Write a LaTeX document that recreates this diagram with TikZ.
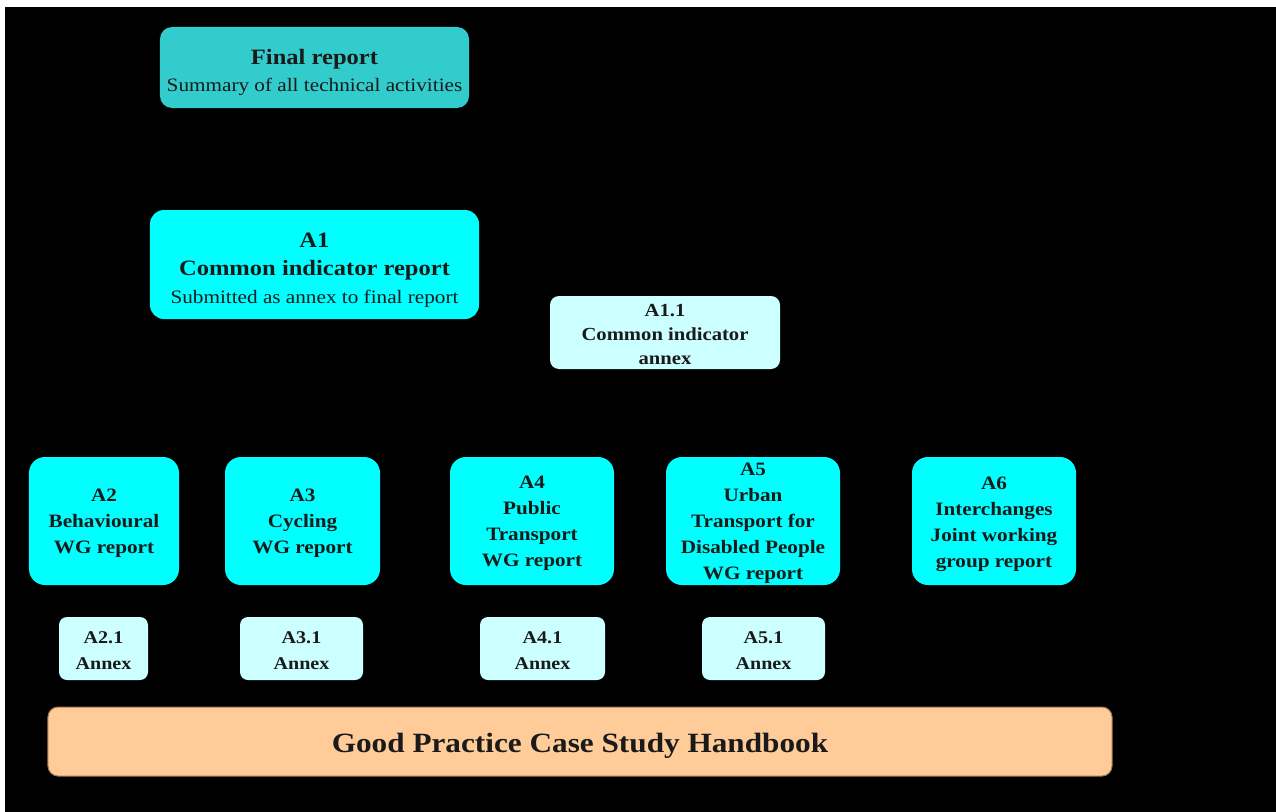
\documentclass[tikz,border=0pt]{standalone}
\usepackage{fontspec}
\setmainfont{Liberation Serif}[FakeStretch=1.12]
\definecolor{teal1}{HTML}{33CCCC}
\definecolor{cyan1}{HTML}{00FFFF}
\definecolor{lcyan}{HTML}{CCFFFF}
\definecolor{peach}{HTML}{FFCC99}
\definecolor{peachedge}{HTML}{A07848}
\definecolor{txt}{HTML}{1A1A1A}
\tikzset{
  basebox/.style={rectangle, inner sep=0pt},
  lbl/.style={inner sep=0pt, align=center, text=txt},
  topbox/.style={basebox, fill=teal1, rounded corners=12bp},
  bigbox/.style={basebox, fill=cyan1, rounded corners=14bp},
  wgbox/.style={basebox, fill=cyan1, rounded corners=16bp, minimum height=128bp},
  wgtext/.style={lbl, font=\fontsize{19}{26}\selectfont\bfseries},
  annexbox/.style={basebox, fill=lcyan, rounded corners=8bp, minimum height=63bp},
  annextext/.style={lbl, font=\fontsize{18}{26}\selectfont\bfseries},
  handbox/.style={basebox, fill=peach, draw=peachedge, line width=1bp, rounded corners=10bp},
  handtext/.style={lbl, font=\fontsize{28}{32}\selectfont\bfseries}
}
\begin{document}
\begin{tikzpicture}[x=1bp,y=-1bp]
\useasboundingbox (0,0) rectangle (1276,812);
\fill[white] (-10,-10) rectangle (1290,830);
\fill[black] (5,7) rectangle (1290,830);

\node[topbox, minimum width=309bp, minimum height=81bp] (final) at (314.5,67.5) {};
\node[lbl, font=\fontsize{19}{27}\selectfont] at ([yshift=-5bp]final.center)
  {{\fontsize{22}{27}\selectfont\bfseries Final report}\\Summary of all technical activities};

\node[bigbox, minimum width=329bp, minimum height=109bp] (a1) at (314.5,264.5) {};
\node[lbl, font=\fontsize{19}{28}\selectfont] at ([yshift=-6bp]a1.center)
  {{\fontsize{22}{28}\selectfont\bfseries A1}\\{\fontsize{22}{28}\selectfont\bfseries Common indicator report}\\Submitted as annex to final report};

\node[basebox, fill=lcyan, rounded corners=9bp, minimum width=230bp, minimum height=73bp] (a11) at (665,332.5) {};
\node[lbl, font=\fontsize{18.5}{24}\selectfont\bfseries] at ([yshift=-2bp]a11.center)
  {A1.1\\Common indicator\\annex};

\node[wgbox, minimum width=150bp] (a2) at (104,521) {};
\node[wgtext] at ([yshift=-2bp]a2.center) {A2\\Behavioural\\WG report};
\node[wgbox, minimum width=155bp] (a3) at (302.5,521) {};
\node[wgtext] at ([yshift=-2bp]a3.center) {A3\\Cycling\\WG report};
\node[wgbox, minimum width=164bp] (a4) at (532,521) {};
\node[wgtext] at ([yshift=-2bp]a4.center) {A4\\Public\\Transport\\WG report};
\node[wgbox, minimum width=174bp] (a5) at (753,521) {};
\node[wgtext] at ([yshift=-2bp]a5.center) {A5\\Urban\\Transport for\\Disabled People\\WG report};
\node[wgbox, minimum width=164bp] (a6) at (994,521) {};
\node[wgtext] at ([yshift=-3bp]a6.center) {A6\\Interchanges\\Joint working\\group report};

\node[annexbox, minimum width=89bp] (a21) at (103.5,648.5) {};
\node[annextext] at ([yshift=-2bp]a21.center) {A2.1\\Annex};
\node[annexbox, minimum width=123bp] (a31) at (301.5,648.5) {};
\node[annextext] at ([yshift=-2bp]a31.center) {A3.1\\Annex};
\node[annexbox, minimum width=125bp] (a41) at (542.5,648.5) {};
\node[annextext] at ([yshift=-2bp]a41.center) {A4.1\\Annex};
\node[annexbox, minimum width=123bp] (a51) at (763.5,648.5) {};
\node[annextext] at ([yshift=-2bp]a51.center) {A5.1\\Annex};

\node[handbox, minimum width=1064bp, minimum height=69bp] (hb) at (580,741.5) {};
\node[handtext] at ([yshift=-4bp]hb.center) {Good Practice Case Study Handbook};
\end{tikzpicture}
\end{document}
